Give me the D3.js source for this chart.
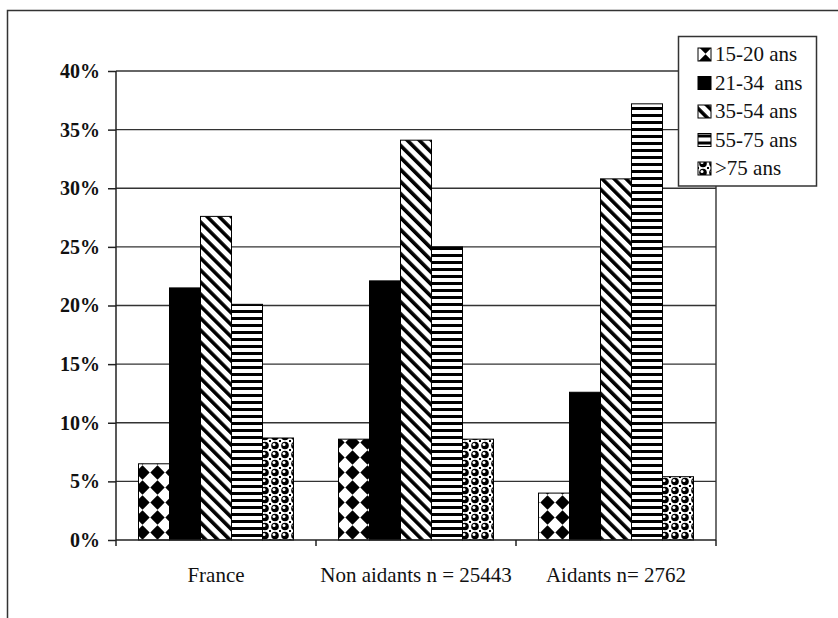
<!DOCTYPE html>
<html>
<head>
<meta charset="utf-8">
<script src="https://cdn.jsdelivr.net/npm/d3@7"></script>
<style>
  body { margin: 0; background: #fff; }
  svg text { font-family: "Liberation Serif", "Times New Roman", Times, serif !important; }
</style>
</head>
<body>
<svg id="chart" width="838" height="618"></svg>
<script>
// groups on the x axis
const categories = ["France", "Non aidants n = 25443", "Aidants n= 2762"]
// age classes, one bar each per group
const series = ["15-20 ans", "21-34  ans", "35-54 ans", "55-75 ans", ">75 ans"]
// values in percent (one array per age class)
const age15_20 = [6.5, 8.6, 4.0]
const age21_34 = [21.5, 22.1, 12.6]
const age35_54 = [27.6, 34.1, 30.8]
const age55_75 = [20.1, 25.0, 37.2]
const age75plus = [8.7, 8.6, 5.4]
const yTicks = [0, 5, 10, 15, 20, 25, 30, 35, 40]

const seriesValues = [age15_20, age21_34, age35_54, age55_75, age75plus]
const fills = ["url(#diamonds)", "#000", "url(#diag)", "url(#hstripes)", "url(#balls)"]

const svg = d3.select("#chart")

// outer frame (only the top and left edges are in the picture)
svg.append("path")
    .attr("d", "M7.5,640 V10.5 H850")
    .attr("fill", "none")
    .attr("stroke", "#333")
    .attr("stroke-width", 1.5)

// fill patterns
const defs = svg.append("defs")

let p = defs.append("pattern").attr("id", "diamonds")
    .attr("patternUnits", "userSpaceOnUse")
    .attr("width", 15).attr("height", 15)
p.append("rect").attr("width", 15).attr("height", 15).attr("fill", "#fff")
p.append("path").attr("d", "M7.5,0.3 L14.7,7.5 L7.5,14.7 L0.3,7.5 Z").attr("fill", "#000")

p = defs.append("pattern").attr("id", "diag")
    .attr("patternUnits", "userSpaceOnUse")
    .attr("width", 8.5).attr("height", 8.5)
    .attr("patternTransform", "rotate(-45)")
p.append("rect").attr("width", 8.5).attr("height", 8.5).attr("fill", "#fff")
p.append("rect").attr("width", 3.6).attr("height", 8.5).attr("fill", "#000")

p = defs.append("pattern").attr("id", "hstripes")
    .attr("patternUnits", "userSpaceOnUse")
    .attr("width", 7).attr("height", 7)
p.append("rect").attr("width", 7).attr("height", 7).attr("fill", "#fff")
p.append("rect").attr("y", 2).attr("width", 7).attr("height", 3).attr("fill", "#000")

p = defs.append("pattern").attr("id", "balls")
    .attr("patternUnits", "userSpaceOnUse")
    .attr("width", 10).attr("height", 9)
p.append("rect").attr("width", 10).attr("height", 9).attr("fill", "#fff")
p.append("circle").attr("cx", 5).attr("cy", 4.5).attr("r", 3.8).attr("fill", "#000")
p.append("circle").attr("cx", 4).attr("cy", 3.6).attr("r", 1.5).attr("fill", "#fff")
p.append("rect").attr("x", -1).attr("y", -1).attr("width", 2).attr("height", 2).attr("fill", "#000")
p.append("rect").attr("x", 9).attr("y", -1).attr("width", 2).attr("height", 2).attr("fill", "#000")
p.append("rect").attr("x", -1).attr("y", 8).attr("width", 2).attr("height", 2).attr("fill", "#000")
p.append("rect").attr("x", 9).attr("y", 8).attr("width", 2).attr("height", 2).attr("fill", "#000")

// scales
const plotLeft = 116, plotRight = 716, plotTop = 71, plotBottom = 540

const x0 = d3.scaleBand()
    .domain(categories)
    .range([plotLeft, plotRight])

const x1 = d3.scaleBand()
    .domain(series)
    .range([22.5, x0.bandwidth() - 22.5])

const y = d3.scaleLinear()
    .domain([0, 40])
    .range([plotBottom, plotTop])

// horizontal grid lines
svg.append("g")
    .selectAll("line")
    .data(yTicks.filter(d => d > 0))
    .join("line")
    .attr("x1", plotLeft).attr("x2", plotRight)
    .attr("y1", d => y(d)).attr("y2", d => y(d))
    .attr("stroke", "#333")
    .attr("stroke-width", 1.4)

// right border of the plot area
svg.append("line")
    .attr("x1", plotRight).attr("x2", plotRight)
    .attr("y1", plotTop).attr("y2", plotBottom)
    .attr("stroke", "#333")
    .attr("stroke-width", 1.4)

// bars
const barData = []
series.forEach((s, i) => {
    categories.forEach((c, j) => {
        barData.push({cat: c, ser: s, value: seriesValues[i][j], fill: fills[i]})
    })
})

svg.append("g")
    .selectAll("rect")
    .data(barData)
    .join("rect")
    .attr("x", d => x0(d.cat) + x1(d.ser))
    .attr("y", d => y(d.value))
    .attr("width", x1.bandwidth())
    .attr("height", d => y(0) - y(d.value))
    .attr("fill", d => d.fill)
    .attr("stroke", "#000")
    .attr("stroke-width", 1)

// y axis
const yAxis = svg.append("g")
    .attr("transform", `translate(${plotLeft},0)`)
    .call(d3.axisLeft(y)
        .tickValues(yTicks)
        .tickSize(8)
        .tickPadding(8)
        .tickFormat(d => d + "%"))

yAxis.select(".domain").attr("stroke", "#222").attr("stroke-width", 1.5)
    .attr("d", `M0,${plotTop}V${plotBottom + 6}`)
yAxis.selectAll(".tick line").attr("stroke", "#222").attr("stroke-width", 1.5)
yAxis.selectAll(".tick text")
    .attr("font-weight", "bold")
    .attr("font-size", 20)
    .attr("fill", "#111")

// x axis line with tick marks between groups
svg.append("line")
    .attr("x1", plotLeft).attr("x2", plotRight)
    .attr("y1", plotBottom).attr("y2", plotBottom)
    .attr("stroke", "#222")
    .attr("stroke-width", 1.5)

svg.append("g")
    .selectAll("line")
    .data(categories.slice(1).concat(["end"]))
    .join("line")
    .attr("x1", d => d === "end" ? plotRight : x0(d))
    .attr("x2", d => d === "end" ? plotRight : x0(d))
    .attr("y1", plotBottom).attr("y2", plotBottom + 6)
    .attr("stroke", "#222")
    .attr("stroke-width", 1.5)

svg.append("g")
    .selectAll("text")
    .data(categories)
    .join("text")
    .attr("x", d => x0(d) + x0.bandwidth() / 2)
    .attr("y", 582)
    .attr("text-anchor", "middle")
    .attr("font-size", 21)
    .attr("fill", "#111")
    .text(d => d)

// legend
const legend = svg.append("g")

legend.append("rect")
    .attr("x", 678.5).attr("y", 36.5)
    .attr("width", 138).attr("height", 149.5)
    .attr("fill", "#fff")
    .attr("stroke", "#333")
    .attr("stroke-width", 1.5)

const items = legend.selectAll("g.item")
    .data(series)
    .join("g")
    .attr("class", "item")
    .attr("transform", (d, i) => `translate(698,${54 + i * 28.5})`)

items.append("rect")
    .attr("x", 0).attr("y", -6)
    .attr("width", 13).attr("height", 13)
    .attr("fill", (d, i) => fills[i])
    .attr("stroke", "#000")
    .attr("stroke-width", 1)

items.append("text")
    .attr("x", 17)
    .attr("y", 7)
    .attr("font-size", 21)
    .attr("fill", "#111")
    .style("white-space", "pre")
    .text(d => d)
</script>
</body>
</html>
